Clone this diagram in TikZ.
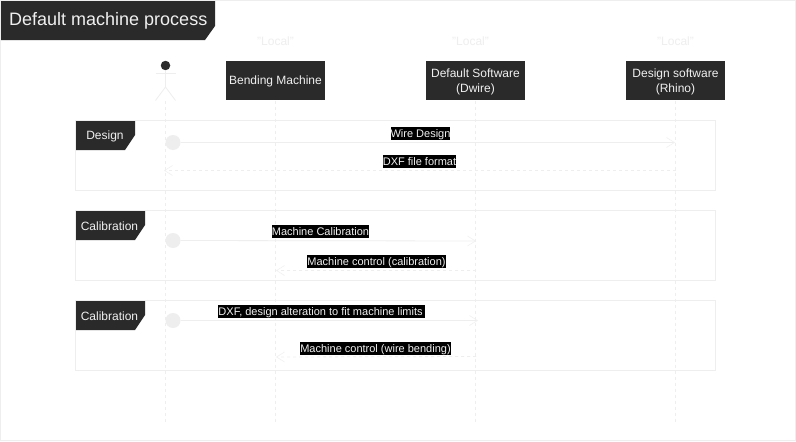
\documentclass[tikz,border=0pt]{standalone}
\usepackage{fontspec}
\setmainfont{Liberation Sans}
\usetikzlibrary{arrows.meta}
\definecolor{dk}{HTML}{2A2A2A}
\definecolor{ln}{HTML}{EEEEEE}
\definecolor{txtw}{HTML}{F0F0F0}
\tikzset{
  x=1pt,y=-1pt,
  headbox/.style={draw=white,line width=0.8pt,fill=dk,minimum width=100pt,minimum height=40pt,inner sep=0pt},
  headtext/.style={text=txtw,font=\fontsize{12}{14.3}\selectfont,align=center,inner sep=0pt},
  msg/.style={fill=black,text=txtw,font=\fontsize{11}{13}\selectfont,inner sep=0pt,minimum height=13pt,text height=9.5pt,text depth=1.5pt},
  localtag/.style={text=ln,font=\fontsize{12}{14}\selectfont,inner sep=0pt},
  life/.style={draw=ln,line width=0.8pt,dash pattern=on 3pt off 3pt},
  frameb/.style={draw=ln,line width=0.8pt,fill=none,minimum width=640pt,minimum height=70pt,inner sep=0pt},
  tagfill/.style={fill=dk,draw=none},
  tagtext/.style={text=txtw,font=\fontsize{12}{14}\selectfont,inner sep=0pt},
  startdot/.style={circle,fill=ln,draw=none,minimum size=15pt,inner sep=0pt},
  synch/.style={draw=ln,line width=0.8pt,-{Straight Barb[length=8pt,width=10pt,line width=0.6pt,color=ln!80!white]}},
  reply/.style={draw=ln,line width=0.8pt,dash pattern=on 3pt off 3pt,-{Straight Barb[length=8pt,width=10pt,line width=0.6pt,color=ln!80!white]}},
}
\begin{document}
\begin{tikzpicture}
\useasboundingbox (0,0) rectangle (796,442);
\fill[white] (0,0) rectangle (796,442);
\draw[ln,line width=0.8pt] (0.5,0.5) rectangle (795.5,440.5);

% title
\fill[tagfill] (1,1) -- (215,1) -- (215,26) -- (205,40) -- (1,40) -- cycle;
\node[text=txtw,font=\fontsize{18}{20}\selectfont,inner sep=0pt,anchor=west] (title) at (9,21) {Default machine process};

% lifelines anchors
\coordinate (actorbase) at (165.5,101);
\coordinate (actorend) at (165.5,422);
\coordinate (mend) at (275.5,422);
\coordinate (dend) at (475.5,422);
\coordinate (rend) at (675.5,422);

% frames
\node[frameb] (f1) at (395.5,155.5) {};
\node[frameb] (f2) at (395.5,245.5) {};
\node[frameb] (f3) at (395.5,335.5) {};

% lifelines
\draw[life] (actorbase) -- (actorend);

% head boxes
\node[headbox] (bm) at (275.5,80.5) {};
\node[headbox] (ds) at (475.5,80.5) {};
\node[headbox] (rh) at (675.5,80.5) {};
\node[headtext] (bmt) at (275.5,81.5) {Bending Machine};
\node[headtext] (dst) at (475.5,81.8) {Default Software\\(Dwire)};
\node[headtext] (rht) at (675.5,81.8) {Design software\\(Rhino)};
\draw[life] (bm.south) -- (mend);
\draw[life] (ds.south) -- (dend);
\draw[life] (rh.south) -- (rend);

\node[localtag] (l1) at (275.5,41) {"Local"};
\node[localtag] (l2) at (470.5,41) {"Local"};
\node[localtag] (l3) at (675.5,41) {"Local"};

% actor
\node[circle,fill=dk,minimum size=9.5pt,inner sep=0pt] (ahead) at (165.5,65.5) {};
\coordinate (ahip) at (165.5,87);
\draw[ln,line width=0.8pt] (155.5,73.5) -- (175.5,73.5);
\draw[ln,line width=0.8pt] (ahead.south) -- (ahip) -- (155.5,100.5);
\draw[ln,line width=0.8pt] (ahip) -- (175.5,100.5);

% frame tags
\fill[tagfill] (76,121) -- (135,121) -- (135,135) -- (125,150) -- (76,150) -- cycle;
\node[tagtext] (t1) at (105,136.5) {Design};
\fill[tagfill] (76,211) -- (145,211) -- (145,225) -- (135,240) -- (76,240) -- cycle;
\node[tagtext] (t2) at (109.5,226.5) {Calibration};
\fill[tagfill] (76,301) -- (145,301) -- (145,315) -- (135,330) -- (76,330) -- cycle;
\node[tagtext] (t3) at (109.5,316.5) {Calibration};

% start dots
\node[startdot] (s1) at (173,142.5) {};
\node[startdot] (s2) at (173,240.5) {};
\node[startdot] (s3) at (173,320.5) {};

% message ends
\coordinate (e1) at (675,142.5);
\coordinate (r1a) at (675.5,170.5);
\coordinate (r1b) at (164,170.5);
\coordinate (e2) at (476,241);
\coordinate (r2a) at (476,270.5);
\coordinate (r2b) at (276,270.5);
\coordinate (e3) at (478,320.5);
\coordinate (r3a) at (476,356.5);
\coordinate (r3b) at (276,357);

\draw[synch] (s1.east) -- (e1);
\draw[reply] (r1a) -- (r1b);
\draw[synch] (s2.east) -- (e2);
\draw[reply] (r2a) -- (r2b);
\draw[synch] (s3.east) -- (e3);
\draw[reply] (r3a) -- (r3b);

% message labels
\node[msg,minimum width=59pt] (m1) at (420.5,133.5) {Wire Design};
\node[msg,minimum width=73pt] (m2) at (419.5,161.5) {DXF file format};
\node[msg,minimum width=97pt] (m3) at (320.5,231.5) {Machine Calibration};
\node[msg,minimum width=139pt] (m4) at (376.5,261.5) {Machine control (calibration)};
\node[msg,minimum width=207pt] (m5) at (321.5,311.5) {DXF, design alteration to fit machine limits\,};
\node[msg,minimum width=151pt] (m6) at (375.5,348.5) {Machine control (wire bending)};
\end{tikzpicture}
\end{document}
